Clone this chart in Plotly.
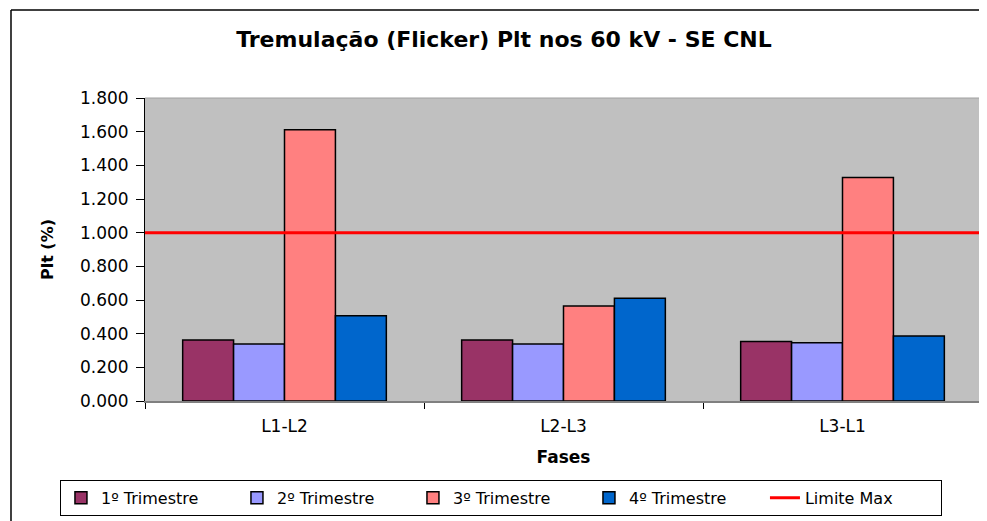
import plotly.graph_objects as go

CATEGORIAS = ["L1-L2", "L2-L3", "L3-L1"]
TRIM1 = [0.362, 0.362, 0.354]
TRIM2 = [0.339, 0.339, 0.346]
TRIM3 = [1.612, 0.565, 1.328]
TRIM4 = [0.507, 0.611, 0.386]
LIMITE_MAX = 1.0
SERIES = ["1º Trimestre", "2º Trimestre", "3º Trimestre", "4º Trimestre"]
CORES = ["#993366", "#9999FF", "#FF8080", "#0066CC"]
Y_TICKS = [0.0, 0.2, 0.4, 0.6, 0.8, 1.0, 1.2, 1.4, 1.6, 1.8]
Y_TICK_LABELS = ["0.000", "0.200", "0.400", "0.600", "0.800", "1.000",
                 "1.200", "1.400", "1.600", "1.800"]

FONT = "DejaVu Sans"

fig = go.Figure()
for nome, vals, cor in zip(SERIES, [TRIM1, TRIM2, TRIM3, TRIM4], CORES):
    fig.add_trace(go.Bar(
        x=CATEGORIAS, y=vals, name=nome,
        marker=dict(color=cor, line=dict(color="#000000", width=1.5)),
    ))

# legend entry for the limit line
fig.add_trace(go.Scatter(
    x=[None], y=[None], mode="lines", name="Limite Max",
    line=dict(color="#FF0000", width=3),
))
fig.add_hline(y=LIMITE_MAX, line=dict(color="#FF0000", width=3), layer="above")

# right border of plot area
fig.add_shape(type="line", xref="paper", yref="paper", x0=1, x1=1, y0=0, y1=1,
              line=dict(color="#808080", width=2))
# top border of plot area
fig.add_shape(type="line", xref="paper", yref="paper", x0=0, x1=1, y0=1, y1=1,
              line=dict(color="#A0A0A0", width=1))
# outer chart frame (left and top)
fig.add_shape(type="line", xref="paper", yref="paper", x0=-0.1601, x1=-0.1601,
              y0=-0.45, y1=1.2904, line=dict(color="#000000", width=1.5))
fig.add_shape(type="line", xref="paper", yref="paper", x0=-0.1601, x1=1.01,
              y0=1.2904, y1=1.2904, line=dict(color="#000000", width=1.5))

fig.update_layout(
    width=979, height=513,
    margin=dict(l=137, r=5, t=90, b=120),
    paper_bgcolor="#FFFFFF",
    plot_bgcolor="#C0C0C0",
    barmode="group", bargap=0.27, bargroupgap=0,
    font=dict(family=FONT, color="#000000", size=16),
    title=dict(
        text="<b>Tremulação (Flicker) Plt nos 60 kV - SE CNL</b>",
        font=dict(family=FONT, size=22, color="#000000"),
        x=0.5066, xref="container", xanchor="center",
        y=1 - 31 / 513, yref="container", yanchor="middle",
    ),
    showlegend=True,
    legend=dict(
        orientation="h", x=-0.1016, xanchor="left", y=-0.26, yanchor="top",
        bordercolor="#000000", borderwidth=1, bgcolor="#FFFFFF",
        font=dict(family=FONT, size=16, color="#000000"),
        traceorder="normal", entrywidth=131, entrywidthmode="pixels",
    ),
    xaxis=dict(
        showgrid=False, showline=True, linecolor="#808080", linewidth=1.5,
        ticks="outside", tickson="boundaries", ticklen=6, tickcolor="#000000",
        tickfont=dict(family=FONT, size=17), ticklabelstandoff=9,
        title=dict(text="<b>Fases</b>", font=dict(family=FONT, size=17), standoff=16),
        automargin=False,
    ),
    yaxis=dict(
        range=[0, 1.8], tickvals=Y_TICKS, ticktext=Y_TICK_LABELS,
        showgrid=False, zeroline=False, showline=True, linecolor="#000000", linewidth=1,
        ticks="outside", ticklen=8, tickcolor="#000000",
        tickfont=dict(family=FONT, size=17), ticklabelstandoff=4,
        title=dict(text="<b>Plt (%)</b>", font=dict(family=FONT, size=16), standoff=22),
        automargin=False,
    ),
)

fig.write_html("out.html")
